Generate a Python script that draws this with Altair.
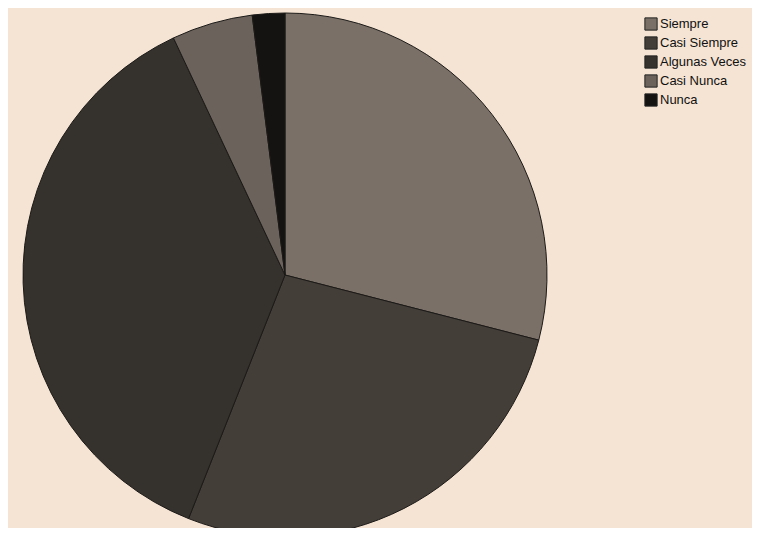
import altair as alt
import pandas as pd

categories = ["Siempre", "Casi Siempre", "Algunas Veces", "Casi Nunca", "Nunca"]
values = [29, 27, 37, 5, 2]
colors = ["#7a7067", "#443e39", "#35312c", "#6b635b", "#151312"]

df = pd.DataFrame({"cat": categories, "val": values, "idx": list(range(len(categories)))})

chart = alt.Chart(df).mark_arc(
    radius=262, stroke="#1c1a18", strokeWidth=1
).encode(
    theta=alt.Theta("val:Q", stack=True),
    order=alt.Order("idx:Q"),
    color=alt.Color(
        "cat:N",
        scale=alt.Scale(domain=categories, range=colors),
        sort=categories,
        legend=alt.Legend(
            title=None,
            orient="none",
            legendX=636,
            legendY=9,
            symbolType="square",
            symbolSize=150,
            symbolStrokeColor="#222222",
            symbolStrokeWidth=1,
            symbolOpacity=1,
            labelFont="Liberation Sans",
            labelFontSize=13,
            labelColor="#111111",
            labelOffset=2,
            rowPadding=1,
            labelLimit=200,
        ),
    ),
    x=alt.value(277),
    y=alt.value(267),
).properties(
    width=744,
    height=520,
    background="#f5e4d3",
    padding=0,
    autosize=alt.AutoSizeParams(type="none"),
).configure_view(stroke=None)

chart.save("out.html", embed_options={"renderer": "svg", "actions": False})
